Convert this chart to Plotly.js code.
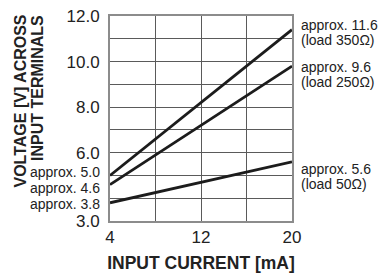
<!DOCTYPE html>
<html>
<head>
<meta charset="utf-8">
<script src="https://cdn.plot.ly/plotly-3.0.1.min.js"></script>
<style>html,body{margin:0;padding:0;background:#fff;}#chart{width:383px;height:273px;}</style>
</head>
<body>
<div id="chart"></div>
<script>
// ---- data ----
const currentMA = [4, 20];
const load350 = [5.0, 11.4];
const load250 = [4.6, 9.8];
const load50 = [3.8, 5.6];

const xTickVals = [4, 12, 20];
const xTickText = ['4', '12', '20'];
const yTickVals = [3, 6, 8, 10, 12];
const yTickText = ['3.0', '6.0', '8.0', '10.0', '12.0'];

const startLabels = ['approx. 5.0', 'approx. 4.6', 'approx. 3.8'];
const startValues = [5.0, 4.6, 3.8];
const endLabels = [
  ['approx. 11.6', '(load 350Ω)'],
  ['approx. 9.6', '(load 250Ω)'],
  ['approx. 5.6', '(load 50Ω)']
];

// ---- layout helpers ----
const W = 383, H = 273;
const M = {l: 110, r: 91, t: 16, b: 52};
const plotH = H - M.t - M.b;
const py = p => 1 - (p - M.t) / plotH;   // pixel y -> paper y

const REG = 'Liberation Sans, Arial, sans-serif';
const NARROW = 'Liberation Sans Narrow, Arial Narrow, Liberation Sans, sans-serif';
const TXT = '#222';

const lineStyle = {color: '#1c1c1c', width: 2.8};
const traces = [load350, load250, load50].map(v => ({
  x: currentMA, y: v, type: 'scatter', mode: 'lines', line: lineStyle,
  hoverinfo: 'skip', showlegend: false
}));

const annotations = [];
// left start labels
const startShift = [3, -3, -1];
startLabels.forEach((t, i) => {
  annotations.push({
    text: t, xref: 'paper', x: 0, xanchor: 'right', xshift: -8,
    yref: 'y', y: startValues[i], yanchor: 'middle', yshift: startShift[i],
    showarrow: false, font: {family: REG, size: 14, color: TXT}
  });
});
// right end labels
const endY = [[25, 39.5], [67, 81.5], [169, 184]];
endLabels.forEach((pair, i) => {
  pair.forEach((t, j) => {
    annotations.push({
      text: t, xref: 'paper', x: 1, xanchor: 'left', xshift: 7,
      yref: 'paper', y: py(endY[i][j]), yanchor: 'middle',
      showarrow: false, font: {family: REG, size: 14, color: TXT}
    });
  });
});
// y title (two lines, top aligned, rotated)
const yTitle = ['VOLTAGE [V] ACROSS', 'INPUT TERMINALS'];
const yTitleX = [20, 37];
yTitle.forEach((t, i) => {
  annotations.push({
    text: '<b>' + t + '</b>', textangle: -90,
    xref: 'paper', x: 0, xanchor: 'center', xshift: yTitleX[i] - M.l,
    yref: 'paper', y: 1, yanchor: 'top', yshift: 3,
    showarrow: false, font: {family: NARROW, size: 16, color: TXT}
  });
});

const gridColor = '#5a5a5a';
const layout = {
  width: W, height: H,
  margin: M,
  paper_bgcolor: '#fff', plot_bgcolor: '#fff',
  showlegend: false,
  xaxis: {
    range: [4, 20], tickmode: 'array', tickvals: xTickVals, ticktext: xTickText,
    showgrid: true, gridcolor: gridColor, gridwidth: 1,
    minor: {tickmode: 'linear', tick0: 4, dtick: 4, showgrid: true, gridcolor: gridColor, gridwidth: 1, ticks: ''},
    zeroline: false, showline: true, mirror: true, linecolor: '#8c8c8c', linewidth: 2,
    ticks: '', tickfont: {family: NARROW, size: 17, color: TXT},
    title: {text: '<b>INPUT CURRENT [mA]</b>', font: {family: NARROW, size: 17.5, color: TXT}, standoff: 15},
    fixedrange: true
  },
  yaxis: {
    range: [3, 12], tickmode: 'array', tickvals: yTickVals, ticktext: yTickText,
    showgrid: true, gridcolor: gridColor, gridwidth: 1,
    minor: {tickmode: 'linear', tick0: 3, dtick: 1, showgrid: true, gridcolor: gridColor, gridwidth: 1, ticks: ''},
    zeroline: false, showline: true, mirror: true, linecolor: '#8c8c8c', linewidth: 2,
    ticks: '', ticklabelstandoff: 5, tickfont: {family: NARROW, size: 17, color: TXT},
    fixedrange: true
  },
  annotations: annotations
};

Plotly.newPlot('chart', traces, layout, {displayModeBar: false, staticPlot: true});
</script>
</body>
</html>
